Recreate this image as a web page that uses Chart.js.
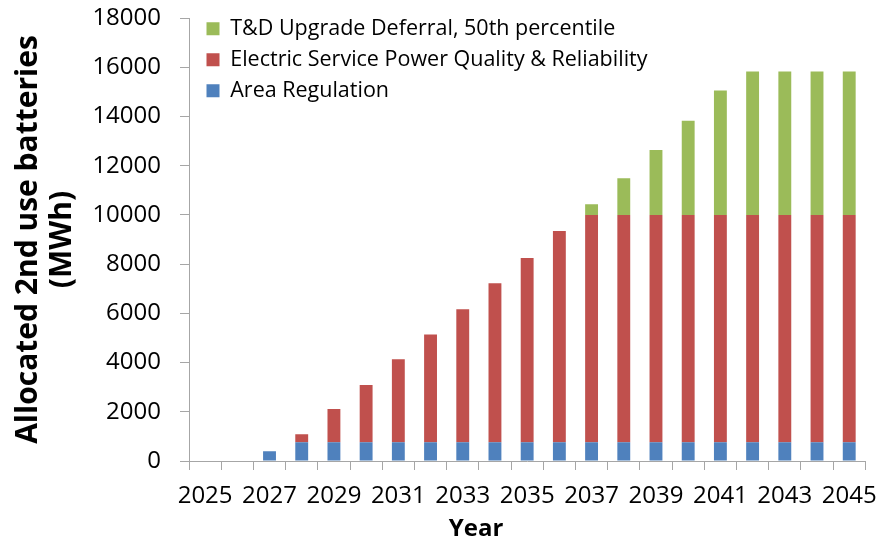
<!DOCTYPE html>
<html>
<head>
<meta charset="utf-8">
<script src="https://cdn.jsdelivr.net/npm/chart.js@4"></script>
<style>
  html, body { margin: 0; padding: 0; background: #fff; }
  #wrap { width: 889px; height: 548px; }
</style>
</head>
<body>
<div id="wrap"><canvas id="chart"></canvas></div>
<script>
const years = ["2025", "2026", "2027", "2028", "2029", "2030", "2031", "2032", "2033", "2034", "2035",
  "2036", "2037", "2038", "2039", "2040", "2041", "2042", "2043", "2044", "2045"];

// MWh allocated per use case, stacked bottom to top
const areaRegulation = [0, 0, 400, 760, 760, 760, 760, 760, 760, 760, 760,
  760, 760, 760, 760, 760, 760, 760, 760, 760, 760];
const powerQuality = [0, 0, 0, 325, 1350, 2330, 3370, 4375, 5405, 6460, 7490,
  8590, 9240, 9240, 9240, 9240, 9240, 9240, 9240, 9240, 9240];
const tdDeferral = [0, 0, 0, 0, 0, 0, 0, 0, 0, 0, 0,
  0, 435, 1490, 2640, 3820, 5050, 5830, 5830, 5830, 5830];

const yTicks = [0, 2000, 4000, 6000, 8000, 10000, 12000, 14000, 16000, 18000];

const FONT = "'Open Sans', sans-serif";
const axisGray = "#a6a6a6";

// keep the legend tucked into the top-left corner of the plot
const legendCorner = {
  id: "legendCorner",
  afterLayout(chart) {
    chart.legend.left = chart.chartArea.left + 8;
    chart.legend.top = chart.chartArea.top - 9.5;
  }
};

// x-axis title, centred a little left of the plot
const yearTitle = {
  id: "yearTitle",
  afterDraw(chart) {
    const ctx = chart.ctx;
    ctx.save();
    ctx.font = "bold 24px " + FONT;
    ctx.fillStyle = "#000";
    ctx.textAlign = "center";
    ctx.textBaseline = "middle";
    ctx.fillText("Year", 476, 529);
    ctx.restore();
  }
};

new Chart(document.getElementById("chart"), {
  type: "bar",
  data: {
    labels: years,
    datasets: [
      { label: "Area Regulation", data: areaRegulation, backgroundColor: "#4f81bd" },
      { label: "Electric Service Power Quality & Reliability", data: powerQuality, backgroundColor: "#c0504d" },
      { label: "T&D Upgrade Deferral, 50th percentile", data: tdDeferral, backgroundColor: "#9bbb59" }
    ]
  },
  options: {
    responsive: true,
    maintainAspectRatio: false,
    animation: false,
    datasets: { bar: { categoryPercentage: 1, barPercentage: 0.4 } },
    layout: { padding: { top: 18, right: 14, bottom: 0, left: 0 } },
    plugins: {
      tooltip: { enabled: false },
      legend: {
        position: "chartArea",
        align: "start",
        reverse: true,
        labels: {
          boxWidth: 13,
          boxHeight: 13,
          padding: 9.5,
          color: "#000",
          font: { family: FONT, size: 21.5 }
        }
      }
    },
    scales: {
      x: {
        stacked: true,
        offset: true,
        grid: {
          offset: true,
          drawOnChartArea: false,
          tickLength: 9,
          color: axisGray
        },
        border: { color: axisGray },
        ticks: {
          autoSkip: false,
          maxRotation: 0,
          padding: 12,
          color: "#000",
          font: { family: FONT, size: 24 },
          callback: (v, i) => (i % 2 === 0 ? years[i] : "")
        },
        afterFit: s => { s.height = 87; }
      },
      y: {
        stacked: true,
        min: 0,
        max: 18000,
        afterBuildTicks: s => { s.ticks = yTicks.map(v => ({ value: v })); },
        grid: {
          drawOnChartArea: false,
          tickLength: 9,
          color: axisGray
        },
        border: { color: axisGray },
        ticks: {
          padding: 19,
          color: "#000",
          font: { family: FONT, size: 24 },
          callback: v => String(v)
        },
        title: {
          display: true,
          text: ["Allocated 2nd use batteries", "(MWh)"],
          color: "#000",
          font: { family: FONT, size: 30, weight: "bold", lineHeight: "34px" },
          padding: { top: 11, bottom: 0 }
        },
        afterFit: s => {
          s.width = 189;
          s.paddingTop = 0;
          s.paddingBottom = 0;
        }
      }
    }
  },
  plugins: [legendCorner, yearTitle]
});
</script>
</body>
</html>
